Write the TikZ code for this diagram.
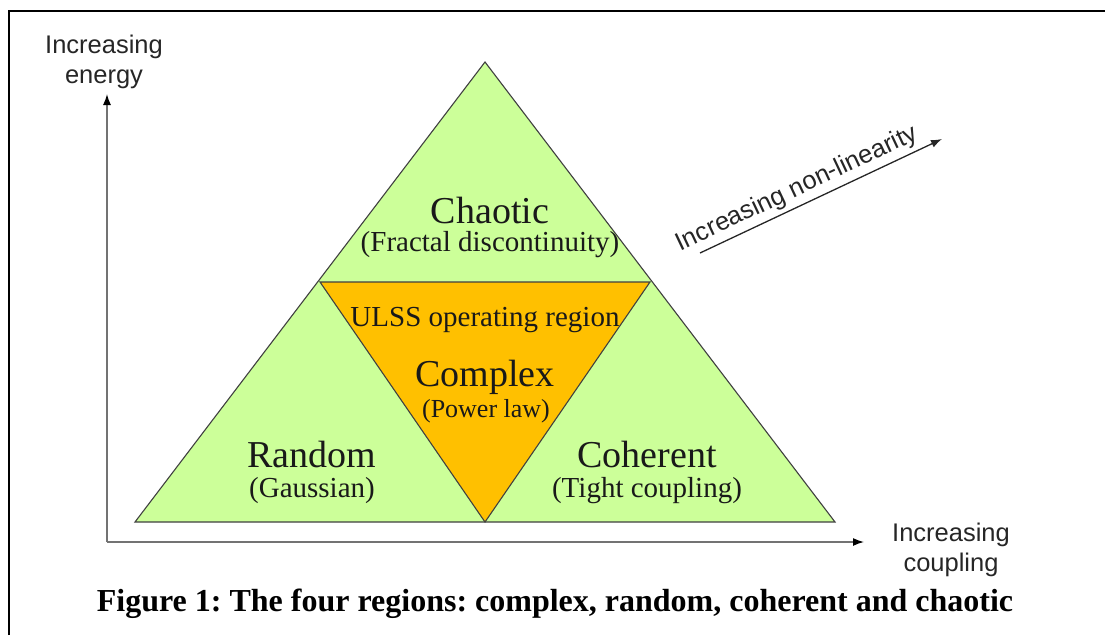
\documentclass[tikz,border=0pt]{standalone}
\usepackage{fontspec}
\setmainfont{Liberation Serif}
\setsansfont{Liberation Sans}
\usetikzlibrary{arrows.meta}
\definecolor{regiongreen}{RGB}{204,255,153}
\definecolor{regionorange}{RGB}{255,192,0}
\definecolor{axisgray}{RGB}{115,115,115}

\begin{document}
\frenchspacing
\begin{tikzpicture}[x=1pt, y=-1pt,
    axislabel/.style={font=\sffamily\fontsize{25.5}{30}\selectfont, align=center, text=black!85},
    regionname/.style={font=\fontsize{38}{40}\selectfont, text=black!90},
    regionnote/.style={font=\fontsize{29}{32}\selectfont, text=black!90},
    axisarrow/.style={axisgray, line width=1.4pt, -{Latex[length=11pt, width=8pt, color=black]}}]
    \useasboundingbox (0,0) rectangle (1105,635);

    % Frame
    \draw[line width=2.4pt] (9,635) -- (9,11) -- (1105,11);

    % Outer triangle
    \coordinate (top) at (485,62);
    \coordinate (bl) at (135,522);
    \coordinate (br) at (835,522);
    \filldraw[fill=regiongreen, draw=black!75, line width=1.1pt] (top) -- (bl) -- (br) -- cycle;

    % Inner triangle
    \coordinate (il) at (320,282);
    \coordinate (ir) at (650,282);
    \coordinate (ib) at (485,522);
    \filldraw[fill=regionorange, draw=black!75, line width=1.1pt] (il) -- (ir) -- (ib) -- cycle;

    % Region labels
    \node[regionname] (chaotic) at (490,210) {Chaotic};
    \node[regionnote] (fractal) at (490,245) {(Fractal discontinuity)};
    \node[regionnote] (ulss) at (485,320) {ULSS operating region};
    \node[regionname] (complex) at (485,377) {Complex};
    \node[regionnote, font=\fontsize{26}{30}\selectfont] (power) at (486,411) {(Power law)};
    \node[regionname] (random) at (312,454) {Random};
    \node[regionnote] (gauss) at (312,491) {(Gaussian)};
    \node[regionname] (coherent) at (647,454) {Coherent};
    \node[regionnote] (tight) at (647,491) {(Tight coupling)};

    % Axes
    \coordinate (origin) at (107,542);
    \coordinate (yend) at (107,94);
    \coordinate (xend) at (864,542);
    \draw[axisarrow] (origin) -- (yend);
    \draw[axisarrow] (origin) -- (xend);
    \node[axislabel] (energy) at (104,62) {Increasing\\energy};
    \node[axislabel] (coupling) at (951,550) {Increasing\\coupling};

    % Non-linearity
    \coordinate (nlstart) at (700,253);
    \coordinate (nlend) at (942,139);
    \draw[black!85, line width=1.3pt, -{Latex[length=11pt, width=8pt]}] (nlstart) -- (nlend);
    \node[axislabel, rotate=25.2] (nonlin) at (797,189) {Increasing non-linearity};

    % Caption
    \node[font=\bfseries\fontsize{32}{34}\selectfont] (caption) at (555,604)
        {Figure 1: The four regions: complex, random, coherent and chaotic};
\end{tikzpicture}
\end{document}
